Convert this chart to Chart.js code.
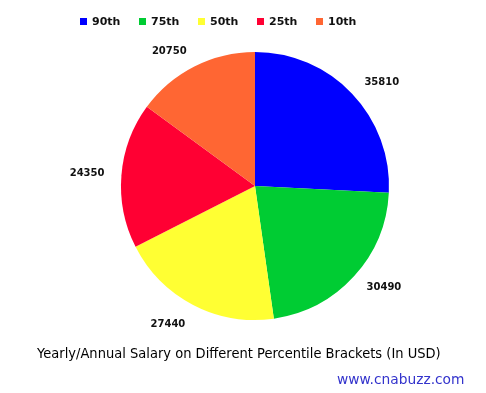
<!DOCTYPE html>
<html><head><meta charset="utf-8">
<script src="https://cdn.jsdelivr.net/npm/chart.js@4"></script>
<style>
html,body{margin:0;padding:0;background:#fff;}
#wrap{position:relative;width:486px;height:393px;overflow:hidden;}
#c{position:absolute;left:0;top:0;}
#legend{position:absolute;top:15px;left:80px;height:14px;font:bold 11px "DejaVu Sans",sans-serif;color:#111;}
.li{position:absolute;top:0;white-space:nowrap;line-height:14px;}
.sw{display:inline-block;width:7px;height:7px;margin-right:5px;vertical-align:0px;}
#title{position:absolute;left:37px;top:345px;font:14px "DejaVu Sans",sans-serif;color:#000;white-space:nowrap;transform-origin:0 0;}
#url{position:absolute;left:337px;top:371px;font:14px "DejaVu Sans",sans-serif;color:#3333cc;white-space:nowrap;transform-origin:0 0;}
</style></head>
<body><div id="wrap">
<canvas id="c" width="486" height="393"></canvas>
<div id="legend"></div>
<div id="title">Yearly/Annual Salary on Different Percentile Brackets (In USD)</div>
<div id="url">www.cnabuzz.com</div>
</div>
<script>
const categories = ["90th", "75th", "50th", "25th", "10th"];
const salaries = [35810, 30490, 27440, 24350, 20750];
const colors = ["#0000ff", "#00cc33", "#ffff33", "#ff0033", "#ff6633"];

// legend
const lg = document.getElementById('legend');
categories.forEach((c, i) => {
  const d = document.createElement('div');
  d.className = 'li';
  d.style.left = (i * 59) + 'px';
  d.innerHTML = '<span class="sw" style="background:' + colors[i] + '"></span>' + c;
  lg.appendChild(d);
});
function fit(id, w) {
  const el = document.getElementById(id);
  const s = w / el.offsetWidth;
  el.style.transform = 'scaleX(' + s + ')';
}
fit('title', 404);
fit('url', 127);

const outsideLabels = {
  id: 'outsideLabels',
  afterDatasetsDraw(chart) {
    const ctx = chart.ctx;
    const meta = chart.getDatasetMeta(0);
    ctx.save();
    ctx.font = 'bold 10px "DejaVu Sans", sans-serif';
    ctx.fillStyle = '#111';
    ctx.textBaseline = 'middle';
    meta.data.forEach((arc, i) => {
      const p = arc.getProps(['x', 'y', 'startAngle', 'endAngle', 'outerRadius'], true);
      const a = (p.startAngle + p.endAngle) / 2;
      const r = p.outerRadius + 17;
      const cx = Math.cos(a), sy = Math.sin(a);
      ctx.textAlign = cx >= 0 ? 'left' : 'right';
      ctx.fillText(String(salaries[i]), p.x + cx * r, p.y + sy * r + (sy > 0.8 ? 4 : 0));
    });
    ctx.restore();
  }
};

new Chart(document.getElementById('c'), {
  type: 'pie',
  data: {
    labels: categories,
    datasets: [{ data: salaries, backgroundColor: colors, borderWidth: 0 }]
  },
  options: {
    responsive: false,
    animation: false,
    layout: { padding: { top: 52, bottom: 73, left: 100, right: 76 } },
    plugins: { legend: { display: false }, tooltip: { enabled: false }, title: { display: false } }
  },
  plugins: [outsideLabels]
});
</script>
</body></html>
